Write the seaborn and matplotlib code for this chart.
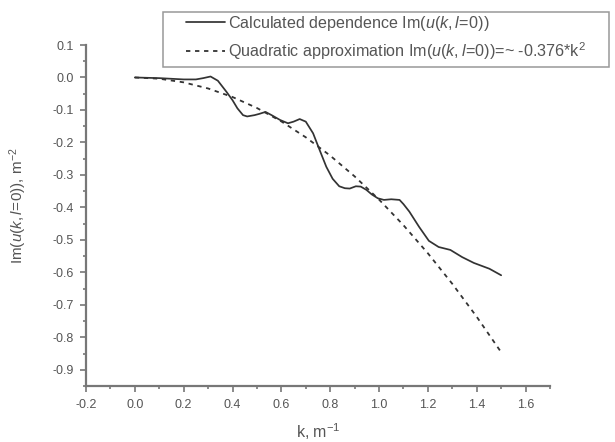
import numpy as np
import pandas as pd
import matplotlib
matplotlib.use("Agg")
import matplotlib.pyplot as plt
from matplotlib.ticker import MultipleLocator
from matplotlib.patches import Rectangle
import seaborn as sns

# Calculated dependence Im(u(k, l=0))
k_calc = [0.00, 0.05, 0.10, 0.15, 0.20, 0.25, 0.28, 0.31, 0.34, 0.375, 0.40, 0.42, 0.443,
          0.46, 0.49, 0.51, 0.535, 0.56, 0.595, 0.627, 0.65, 0.675, 0.70, 0.73, 0.757,
          0.784, 0.81, 0.837, 0.86, 0.88, 0.905, 0.925, 0.948, 0.97, 0.995, 1.02, 1.05,
          1.084, 1.10, 1.124, 1.164, 1.204, 1.244, 1.292, 1.340, 1.388, 1.452, 1.50]
im_calc = [0.000, -0.001, -0.002, -0.004, -0.006, -0.006, -0.002, 0.003, -0.010, -0.044,
           -0.070, -0.095, -0.116, -0.120, -0.116, -0.112, -0.106, -0.116, -0.131, -0.141,
           -0.136, -0.128, -0.136, -0.172, -0.224, -0.275, -0.312, -0.335, -0.341, -0.342,
           -0.335, -0.336, -0.346, -0.360, -0.372, -0.377, -0.375, -0.377, -0.390, -0.413,
           -0.460, -0.503, -0.522, -0.531, -0.553, -0.571, -0.589, -0.609]

# Quadratic approximation Im(u) ~ -0.376 * k^2
quad_coef = -0.376
k_quad = [0.0, 0.1, 0.2, 0.3, 0.4, 0.5, 0.6, 0.7, 0.8, 0.9, 1.0, 1.1, 1.2, 1.3, 1.4, 1.5]

x_ticks = [-0.2, 0.0, 0.2, 0.4, 0.6, 0.8, 1.0, 1.2, 1.4, 1.6]
y_ticks = [0.1, 0.0, -0.1, -0.2, -0.3, -0.4, -0.5, -0.6, -0.7, -0.8, -0.9]

sns.set_style("ticks")
plt.rcParams["font.family"] = ["Liberation Sans", "DejaVu Sans"]
plt.rcParams["mathtext.fontset"] = "custom"
plt.rcParams["mathtext.rm"] = "Liberation Sans"
plt.rcParams["mathtext.it"] = "Liberation Sans:italic"

text_col = "#555555"
line_col = "#333333"
axis_col = "#777777"

W, H = 615, 442
fig = plt.figure(figsize=(W / 100, H / 100), dpi=100)
ax = fig.add_axes([86 / W, 1 - 386 / H, 464 / W, 341 / H])

k_q = np.array(k_quad)
df_calc = pd.DataFrame({"k": k_calc, "im": im_calc})
df_quad = pd.DataFrame({"k": k_q, "im": quad_coef * k_q ** 2})

u_arg = r"$\it{u(k,l\!=\!0)}$"
lab_calc = "Calculated dependence Im(" + u_arg + ")"
lab_quad = "Quadratic approximation Im(" + u_arg + ")=~ -0.376*k$^2$"

sns.lineplot(data=df_calc, x="k", y="im", ax=ax, color=line_col, lw=1.25,
             label=lab_calc)
sns.lineplot(data=df_quad, x="k", y="im", ax=ax, color=line_col, lw=1.3,
             linestyle=(0, (2.4, 2.6)), label=lab_quad)

ax.set_xlim(-0.2, 1.7)
ax.set_ylim(-0.95, 0.1)
ax.set_xticks(x_ticks)
ax.set_yticks(y_ticks)
ax.set_xticklabels([f"{v:.1f}" for v in x_ticks])
ax.set_yticklabels([f"{v:.1f}" for v in y_ticks])
ax.xaxis.set_minor_locator(MultipleLocator(0.1))
ax.yaxis.set_minor_locator(MultipleLocator(0.05))

for side in ("top", "right"):
    ax.spines[side].set_visible(False)
for side in ("left", "bottom"):
    ax.spines[side].set_color(axis_col)
    ax.spines[side].set_linewidth(1.6)

ax.tick_params(which="major", direction="out", length=4.5, width=1.2,
               colors=axis_col, labelcolor=text_col, labelsize=9)
ax.tick_params(axis="x", which="major", pad=4.5)
ax.tick_params(axis="y", which="major", pad=4)
ax.tick_params(which="minor", direction="out", length=2.5, width=1.2,
               colors=axis_col)

ax.set_xlabel(r"k, m$^{-1}$", color=text_col, fontsize=11.5)
ax.set_ylabel("Im(" + u_arg + r"), m$^{-2}$", color=text_col, fontsize=11)
ax.xaxis.set_label_coords(0.5, -0.103)
ax.yaxis.set_label_coords(-0.122, 0.53)

# Legend: entries without a frame, plus a drawn box around them
leg = ax.legend(loc="upper left", bbox_to_anchor=(186 / W, 1 - 14 / H),
                bbox_transform=fig.transFigure, fontsize=11.6, frameon=False,
                handlelength=2.45, handletextpad=0.15, borderpad=0.0,
                labelspacing=0.45, borderaxespad=0)
for t in leg.get_texts():
    t.set_color(text_col)
fig.patches.append(Rectangle((163 / W, 1 - 67 / H), (609 - 163) / W, 55 / H,
                             transform=fig.transFigure, fill=False,
                             edgecolor="#999999", lw=1.1, zorder=5))

fig.savefig("out.png", dpi=100)
